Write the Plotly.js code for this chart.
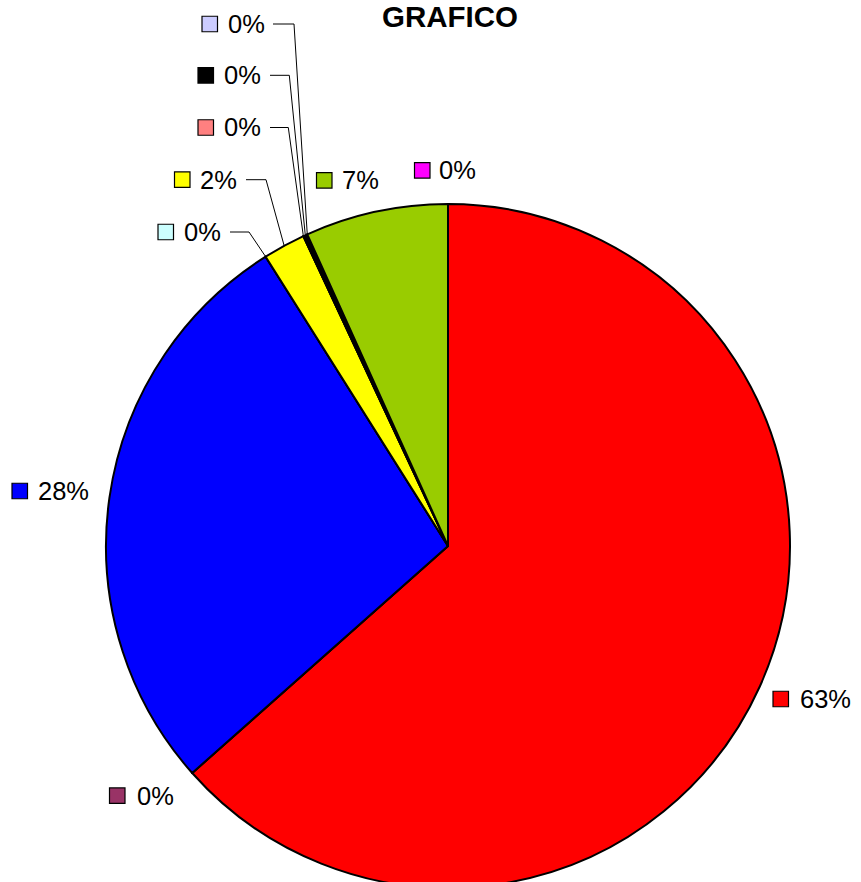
<!DOCTYPE html>
<html><head><meta charset="utf-8">
<script src="https://cdn.plot.ly/plotly-3.0.1.min.js"></script>
<style>html,body{margin:0;padding:0;overflow:hidden;background:#fff}#chart{width:861px;height:900px}</style>
</head><body><div id="chart"></div>
<script>
// ---- data ----
const categories = ['Serie 1','Serie 2','Serie 3','Serie 4','Serie 5','Serie 6','Serie 7','Serie 8','Serie 9','Serie 10'];
const values = [63.45, 0, 27.6, 0, 2.0, 0, 0.2, 0, 6.75, 0];
const colors = ['#FF0000','#993366','#0000FF','#CCFFFF','#FFFF00','#FF8080','#000000','#CCCCFF','#99CC00','#FF00FF'];
const titleText = 'GRAFICO';

// ---- layout constants (pixels) ----
const W = 861, H = 900;
const cx = 448, cy = 546, R = 342;
// [squareLeft, centerY, textLeft, leader [startX, elbowX] or null]
const labelPos = [
  [773, 699, 800, null],
  [109.5, 795.7, 136.7, null],
  [12, 491, 38.3, null],
  [158, 232, 184.3, [230, 249]],
  [174.5, 179.7, 200, [246, 266]],
  [198, 127.5, 224, [270, 288.3]],
  [198, 75.3, 224, [270, 289.3]],
  [202, 24, 228, [273, 294]],
  [316.5, 180.3, 341.7, null],
  [414.5, 170.3, 439.3, null]
];
const SQ = 15.5, FS = 25.5, FONT = 'Liberation Sans, Arial, sans-serif';
const px = x => x / W, py = y => 1 - y / H;

const total = values.reduce((a, b) => a + b, 0);
const shapes = [], annotations = [];
let cum = 0;
values.forEach((v, i) => {
  const frac = v / total;
  const mid = (cum + frac / 2) * 2 * Math.PI;
  cum += frac;
  const [sqL, cY, tL, lead] = labelPos[i];
  shapes.push({type: 'rect', xref: 'paper', yref: 'paper',
    x0: px(sqL), x1: px(sqL + SQ), y0: py(cY - SQ / 2), y1: py(cY + SQ / 2),
    fillcolor: colors[i], line: {color: '#000', width: 1.2}});
  annotations.push({xref: 'paper', yref: 'paper', x: px(tL - 2), y: py(cY),
    xanchor: 'left', yanchor: 'middle', showarrow: false,
    text: Math.round(frac * 100) + '%', font: {family: FONT, size: FS, color: '#000'}});
  if (lead) {
    const ex = cx + R * Math.sin(mid), ey = cy - R * Math.cos(mid);
    shapes.push({type: 'path', xref: 'paper', yref: 'paper',
      path: `M ${px(lead[0])},${py(cY)} L ${px(lead[1])},${py(cY)} L ${px(ex)},${py(ey)}`,
      line: {color: '#000', width: 1}});
  }
});

annotations.push({xref: 'paper', yref: 'paper', x: px(449.5), y: 1, xanchor: 'center', yanchor: 'top',
  showarrow: false, borderpad: 0, borderwidth: 0,
  text: '<b>' + titleText + '</b>', font: {family: FONT, size: 29.5, color: '#000'}});

const trace = {
  type: 'pie', labels: categories, values: values, sort: false,
  direction: 'clockwise', rotation: 0, textinfo: 'none', hoverinfo: 'none',
  marker: {colors: colors, line: {color: '#000', width: 2}},
  domain: {x: [px(cx - R), px(cx + R)], y: [py(cy + R), py(cy - R)]}
};

const layout = {
  width: W, height: H, margin: {l: 0, r: 0, t: 0, b: 0},
  paper_bgcolor: '#fff', plot_bgcolor: '#fff', showlegend: false,
  shapes: shapes, annotations: annotations
};
Plotly.newPlot('chart', [trace], layout, {staticPlot: true, displayModeBar: false});
</script></body></html>
